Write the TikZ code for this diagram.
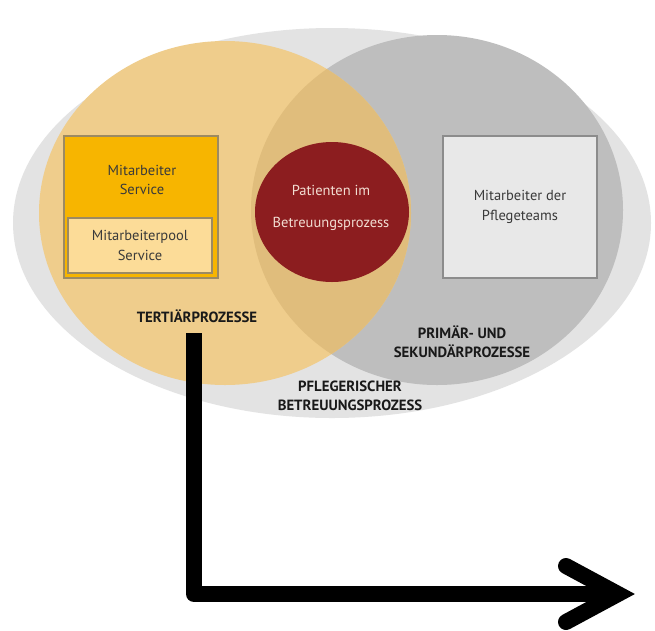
\documentclass[tikz,border=0pt]{standalone}
\usepackage{fontspec}
\setmainfont{PT Sans}
\definecolor{outerg}{HTML}{E3E3E3}
\definecolor{rightg}{HTML}{BEBEBE}
\definecolor{tan}{HTML}{EFCD8C}
\definecolor{overlap}{HTML}{E0BD7C}
\definecolor{patred}{HTML}{8C1D1F}
\definecolor{amber}{HTML}{F7B500}
\definecolor{lighttan}{HTML}{FCDC98}
\definecolor{boxedge}{HTML}{9C8A62}
\definecolor{boxgray}{HTML}{E8E8E8}
\definecolor{grayedge}{HTML}{8C8C8C}
\definecolor{txt}{HTML}{3A3A3A}
\definecolor{redtxt}{HTML}{F2DDD2}
\begin{document}
\begin{tikzpicture}[x=1pt,y=-1pt,
  boxtext/.style={text=txt,font=\fontsize{14.5}{19.5}\selectfont,align=center},
  lbl/.style={text=black!90,font=\bfseries\fontsize{14.8}{19}\selectfont,align=center},
  flow/.style={line width=16pt,black}]
\useasboundingbox (0,0) rectangle (655,630);
\fill[white] (0,0) rectangle (655,630);
% outer ellipse
\fill[outerg] (332,223) ellipse [x radius=319, y radius=195];
% right gray circle
\fill[rightg] (437,210) ellipse [x radius=186, y radius=175];
% left tan circle
\fill[tan] (225,213) ellipse [x radius=186, y radius=172];
% overlap
\begin{scope}
\clip (437,210) ellipse [x radius=186, y radius=175];
\fill[overlap] (225,213) ellipse [x radius=186, y radius=172];
\end{scope}
% patients
\fill[patred] (332,212) ellipse [x radius=77, y radius=70];
\node[text=redtxt,font=\fontsize{14.5}{19}\selectfont] (pat1) at (331,190) {Patienten im};
\node[text=redtxt,font=\fontsize{14.5}{19}\selectfont] (pat2) at (331,224) {Betreuungsprozess};
% left boxes
\node[draw=boxedge,line width=1.2pt,fill=amber,minimum width=154pt,minimum height=142pt,inner sep=0pt] (ms) at (141,207) {};
\node[boxtext] (mstxt) at (142,180) {Mitarbeiter\\Service};
\node[draw=boxedge,line width=1.2pt,fill=lighttan,minimum width=144pt,minimum height=55pt,boxtext,inner sep=0pt] (pool) at (140,245.5) {Mitarbeiterpool\\Service};
% right box
\node[draw=grayedge,line width=1.2pt,fill=boxgray,minimum width=154pt,minimum height=142pt,boxtext,inner sep=0pt] (pt) at (520,207) {Mitarbeiter der\\Pflegeteams};
% labels
\node[lbl] (tert) at (197,316) {TERTIÄRPROZESSE};
\node[lbl] (prim) at (462,342) {PRIMÄR- UND\\SEKUNDÄRPROZESSE};
\node[lbl] (pfl) at (350,396) {PFLEGERISCHER\\BETREUUNGSPROZESS};
% arrow
\coordinate (a0) at (194,333);
\coordinate (a1) at (194,594);
\coordinate (a2) at (618,594);
\coordinate (h1) at (566,566);
\coordinate (h2) at (566,622);
\draw[flow,line join=round] (a0) -- (a1) -- (a2);
\draw[flow,line cap=round,line join=miter] (h1) -- (a2) -- (h2);
\end{tikzpicture}
\end{document}
